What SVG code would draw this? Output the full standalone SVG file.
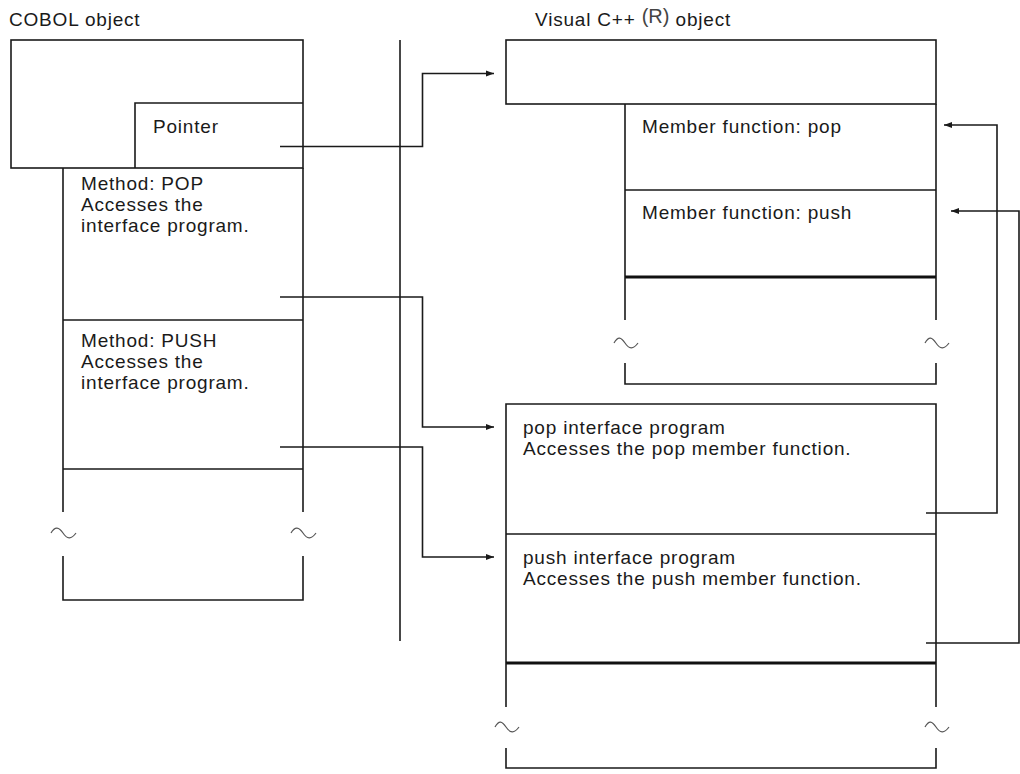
<svg xmlns="http://www.w3.org/2000/svg" width="1020" height="774" viewBox="0 0 1020 774">
<defs>
<style>
.ln{fill:none;stroke:#1a1a1a;stroke-width:1.6}
.thk{fill:none;stroke:#111;stroke-width:3}
.wv{fill:none;stroke:#555;stroke-width:1.2}
.t{font-family:"Liberation Sans",Arial,sans-serif;font-size:19px;fill:#1a1a1a;letter-spacing:0.8px}
.r{font-family:"Liberation Sans",Arial,sans-serif;font-size:20px;fill:#444}
</style>
<marker id="ah" markerUnits="userSpaceOnUse" markerWidth="9" markerHeight="8" refX="8" refY="4" orient="auto">
<path d="M0,1 L8,4 L0,7 Z" fill="#1a1a1a"/>
</marker>
</defs>
<rect width="1020" height="774" fill="#fff"/>

<text class="t" x="9" y="26">COBOL object</text>
<text x="535" y="26"><tspan class="t">Visual C++ </tspan><tspan class="r" dy="-3">(R)</tspan><tspan class="t" dy="3"> object</tspan></text>

<line class="ln" x1="400" y1="40" x2="400" y2="641"/>

<g id="cobol-object">
<rect class="ln" x="11" y="40" width="292" height="128"/>
</g>
<g id="pointer">
<path class="ln" d="M135,168 V103 H303"/>
<text class="t" x="153" y="133">Pointer</text>
</g>
<g id="method-pop">
<path class="ln" d="M63,168 V320 M303,168 V320 M63,320 H303"/>
<text class="t" x="81" y="190">Method: POP</text>
<text class="t" x="81" y="211">Accesses the</text>
<text class="t" x="81" y="232">interface program.</text>
</g>
<g id="method-push">
<path class="ln" d="M63,320 V469 M303,320 V469 M63,469 H303"/>
<text class="t" x="81" y="347">Method: PUSH</text>
<text class="t" x="81" y="368">Accesses the</text>
<text class="t" x="81" y="389">interface program.</text>
</g>
<g id="cobol-rest">
<path class="ln" d="M63,469 V512 M303,469 V512 M63,556 V600 H303 V556"/>
<path class="wv" d="M51,533 C55,526 59,527 63,533 S71,540 76,533"/>
<path class="wv" d="M291,533 C295,526 299,527 303,533 S311,540 316,533"/>
</g>

<g id="cpp-object">
<rect class="ln" x="506" y="40" width="430" height="64"/>
</g>
<g id="member-pop">
<path class="ln" d="M625,104 V190 M936,104 V190 M625,190 H936"/>
<text class="t" x="642" y="133">Member function: pop</text>
</g>
<g id="member-push">
<path class="ln" d="M625,190 V277 M936,190 V277"/>
<text class="t" x="642" y="219">Member function: push</text>
</g>
<g id="cpp-rest">
<line class="thk" x1="625" y1="277" x2="936" y2="277"/>
<path class="ln" d="M625,277 V320 M936,277 V320 M625,363 V384 H936 V363"/>
<path class="wv" d="M614,343 C618,336 621,337 625,343 S633,350 638,343"/>
<path class="wv" d="M925,343 C929,336 932,337 936,343 S944,350 949,343"/>
</g>

<g id="pop-interface">
<path class="ln" d="M506,534 V404 H936 V534 M506,534 H936"/>
<text class="t" x="523" y="434">pop interface program</text>
<text class="t" x="523" y="455">Accesses the pop member function.</text>
</g>
<g id="push-interface">
<path class="ln" d="M506,534 V663 M936,534 V663"/>
<text class="t" x="523" y="564">push interface program</text>
<text class="t" x="523" y="585">Accesses the push member function.</text>
</g>
<g id="cpp-rest-2">
<line class="thk" x1="506" y1="663" x2="936" y2="663"/>
<path class="ln" d="M506,663 V707 M936,663 V707 M506,748 V768 H936 V748"/>
<path class="wv" d="M495,727 C499,720 502,721 506,727 S514,734 519,727"/>
<path class="wv" d="M925,727 C929,720 932,721 936,727 S944,734 949,727"/>
</g>

<g id="connectors">
<path class="ln" d="M280,146.5 H422.5 V73.5 H494" marker-end="url(#ah)"/>
<path class="ln" d="M280,297 H422.5 V427 H494" marker-end="url(#ah)"/>
<path class="ln" d="M280,447 H422.5 V557 H494" marker-end="url(#ah)"/>
<path class="ln" d="M926,513 H997 V125 H944" marker-end="url(#ah)"/>
<path class="ln" d="M926,643 H1019 V211 H951" marker-end="url(#ah)"/>
</g>
</svg>
